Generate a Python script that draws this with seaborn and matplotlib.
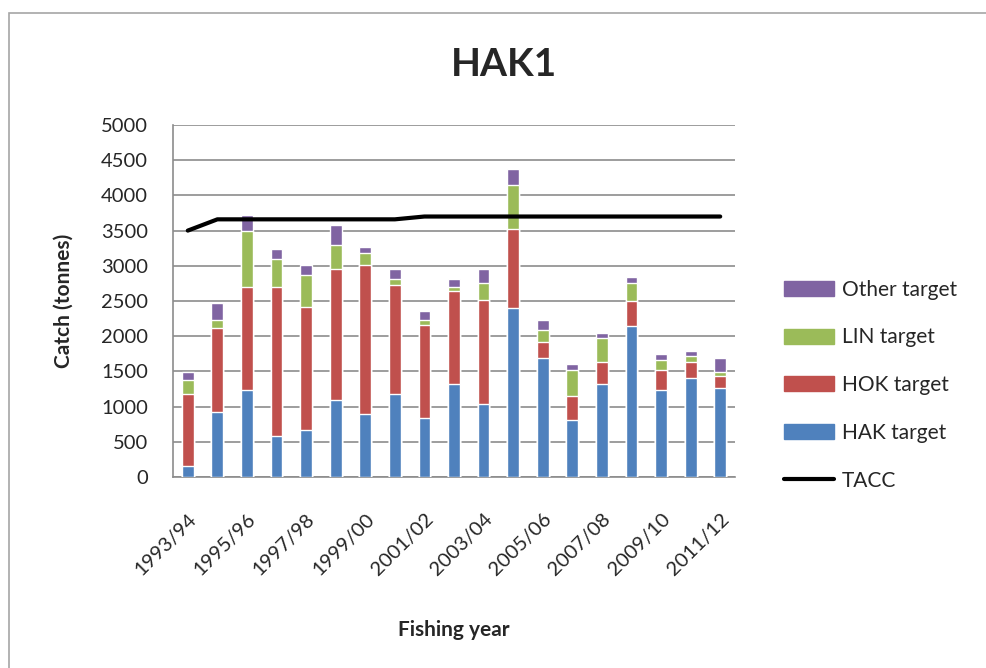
import numpy as np
import pandas as pd
import matplotlib
matplotlib.use("Agg")
import matplotlib.pyplot as plt
import seaborn as sns
from matplotlib.patches import Patch, Rectangle
from matplotlib.lines import Line2D

# Data (tonnes)
years = ["1993/94", "1994/95", "1995/96", "1996/97", "1997/98", "1998/99", "1999/00",
         "2000/01", "2001/02", "2002/03", "2003/04", "2004/05", "2005/06", "2006/07",
         "2007/08", "2008/09", "2009/10", "2010/11", "2011/12"]
hak = [152, 921, 1239, 584, 665, 1097, 897, 1178, 840, 1320, 1035, 2407, 1695, 807, 1320, 2151, 1234, 1405, 1263]
hok = [1026, 1201, 1458, 2113, 1747, 1856, 2113, 1547, 1316, 1315, 1486, 1116, 228, 347, 318, 342, 290, 233, 171]
lin = [199, 114, 798, 399, 456, 342, 171, 86, 80, 57, 233, 627, 171, 370, 342, 261, 143, 86, 57]
other = [109, 233, 232, 147, 137, 290, 90, 138, 119, 119, 199, 232, 142, 86, 62, 85, 85, 66, 204]
tacc = [3500, 3660, 3660, 3660, 3660, 3660, 3660, 3660, 3700, 3700, 3700, 3700, 3700, 3700,
        3700, 3700, 3700, 3700, 3700]

df = pd.DataFrame({"year": years, "HAK target": hak, "HOK target": hok,
                   "LIN target": lin, "Other target": other, "TACC": tacc})

colors = {"HAK target": "#4F81BD", "HOK target": "#C0504D",
          "LIN target": "#9BBB59", "Other target": "#8064A2"}
series = ["HAK target", "HOK target", "LIN target", "Other target"]

# cumulative tops for stacking
cum = df[series].cumsum(axis=1)

sns.set_style("white")
plt.rcParams['font.family'] = ['Lato', 'DejaVu Sans']

fig = plt.figure(figsize=(9.87, 6.68), dpi=100)
ax = fig.add_axes([173 / 987, 1 - 477 / 668, (735 - 173) / 987, (477 - 125) / 668])

# draw tallest first so lower segments sit on top
for s in reversed(series):
    sns.barplot(x=df["year"], y=cum[s], color=colors[s], width=0.4,
                saturation=1, ax=ax, zorder=3)

sns.lineplot(x=df["year"], y=df["TACC"], color="black", linewidth=3,
             sort=False, ax=ax, zorder=4)

ax.set_xlim(-0.5, len(years) - 0.5)
ax.set_ylim(0, 5000)
ax.set_yticks(np.arange(0, 5001, 500))
ax.yaxis.grid(True, color="#8c8c8c", linewidth=1.2, zorder=0)
ax.set_axisbelow(True)

# x labels every other year, ticks at category boundaries
ax.set_xticks(range(0, len(years), 2))
ax.set_xticklabels(years[::2], rotation=45, ha="right", rotation_mode="anchor", fontsize=14.5)
ax.set_xticks(np.arange(-0.5, len(years), 1), minor=True)
ax.tick_params(axis="x", which="major", length=0, pad=24)
ax.tick_params(axis="x", which="minor", length=9, color="#8c8c8c", direction="out")
ax.tick_params(axis="y", length=8, color="#8c8c8c", direction="out", labelsize=14.5, pad=10)

for sp in ["top", "right"]:
    ax.spines[sp].set_visible(False)
for sp in ["left", "bottom"]:
    ax.spines[sp].set_color("#8c8c8c")
    ax.spines[sp].set_linewidth(1.2)

ax.set_xlabel("Fishing year", fontsize=15, fontweight="bold", labelpad=30)
ax.set_ylabel("Catch (tonnes)", fontsize=15, fontweight="bold", labelpad=20)
fig.text(504 / 987, 1 - 64 / 668, "HAK1", fontsize=28, fontweight="bold",
         ha="center", va="center")

handles = [Patch(color=colors[s], label=s) for s in reversed(series)]
handles.append(Line2D([0], [0], color="black", linewidth=3, label="TACC"))
fig.legend(handles=handles, loc="upper left", bbox_to_anchor=(765 / 987, 1 - 261 / 668),
           frameon=False, fontsize=15, handlelength=2.4, handleheight=0.72,
           labelspacing=1.33, handletextpad=0.4)

# outer chart border
fig.patches.append(Rectangle((9 / 987, -0.1), 1.2, 1.1 - 13 / 668,
                             transform=fig.transFigure, fill=False,
                             edgecolor="#a6a6a6", linewidth=1.2))

fig.savefig("out.png", dpi=100)
